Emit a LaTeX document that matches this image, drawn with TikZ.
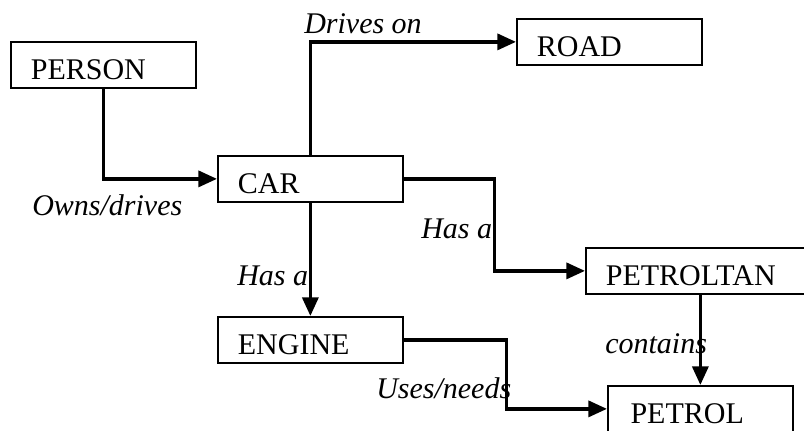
\documentclass[tikz,border=0pt]{standalone}
\usepackage{fontspec}
\setmainfont{Liberation Serif}
\usetikzlibrary{arrows.meta}

\tikzset{
    boks/.style={draw, line width=1.3pt, anchor=north west, inner xsep=15pt, inner ysep=0pt,
        text height=28.5pt, text depth=6pt, text width=108.75pt, align=left,
        font=\fontsize{22.5}{27}\selectfont},
    pil/.style={line width=2.6pt, -{Triangle[length=14pt,width=12pt]}},
    tekst/.style={anchor=base west, inner sep=0pt, font=\fontsize{22.5}{27}\selectfont\itshape}
}

\begin{document}
\begin{tikzpicture}[x=0.75pt,y=-0.75pt]
    %Ramme
        \useasboundingbox (0,0) rectangle (804,430);
    %Bokser
        \node[boks] (person) at (10,41) {PERSON};
        \node[boks] (road) at (516,18) {ROAD};
        \node[boks] (car) at (217,155) {CAR};
        \node[boks, text width=170pt] (petroltan) at (585,247) {PETROLTAN};
        \node[boks] (engine) at (217,316) {ENGINE};
        \node[boks, inner xsep=17pt, text width=104.75pt] (petrol) at (607,385) {PETROL};
    %Tekster
        \node[tekst] (drives) at (304,33) {Drives on};
        \node[tekst] (owns) at (32,215) {Owns/drives};
        \node[tekst] (hasa1) at (421,238) {Has a};
        \node[tekst] (hasa2) at (237,285) {Has a};
        \node[tekst] (contains) at (605,353) {contains};
        \node[tekst] (uses) at (376,398) {Uses/needs};
    %Piler
        \draw[pil] (person.south) |- (car.west);
        \draw[pil] (car.north) |- (road.west);
        \draw[pil] (car.east) -- ++(91,0) |- (petroltan.west);
        \draw[pil] (car.south) -- (engine.north);
        \draw[pil] (engine.east) -- ++(103,0) |- (petrol.west);
        \draw[pil] (petrol.north |- petroltan.south) -- (petrol.north);
\end{tikzpicture}
\end{document}
